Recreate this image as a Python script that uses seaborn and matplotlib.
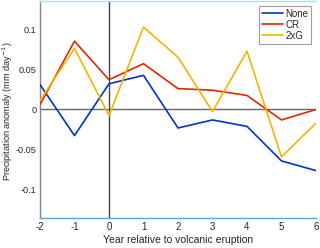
import matplotlib
matplotlib.use("Agg")
import matplotlib.pyplot as plt
import pandas as pd
import seaborn as sns

years = [-2, -1, 0, 1, 2, 3, 4, 5, 6]
none_vals = [0.031, -0.0325, 0.032, 0.0425, -0.023, -0.013, -0.021, -0.064, -0.076]
cr_vals = [0.006, 0.085, 0.037, 0.057, 0.026, 0.024, 0.0175, -0.013, 0.0]
g2_vals = [0.011, 0.076, -0.0075, 0.1025, 0.065, -0.0025, 0.0725, -0.059, -0.017]
series = ["None", "CR", "2xG"]
colors = ["#0033cc", "#dd2a00", "#f5b400"]

df = pd.DataFrame({
    "year": years * 3,
    "value": none_vals + cr_vals + g2_vals,
    "run": [s for s in series for _ in years],
})

sns.set_style("white")
plt.rcParams['font.family'] = ['Liberation Sans', 'DejaVu Sans']

fig = plt.figure(figsize=(3.2, 2.48), dpi=100)
ax = fig.add_axes([0.125, 0.121, 0.8625, 0.875])

# reference lines
ax.axhline(0, color='#666666', linewidth=1, zorder=1)
ax.axvline(0, color='#444444', linewidth=1, zorder=1)

sns.lineplot(data=df, x="year", y="value", hue="run", hue_order=series,
             palette=colors, linewidth=1.2, ax=ax, zorder=3)

ax.set_xlim(-2, 6)
ax.set_ylim(-0.135, 0.135)
ax.set_xticks(years)
ax.set_yticks([-0.1, -0.05, 0, 0.05, 0.1])
ax.set_yticklabels(["-0.1", "-0.05", "0", "0.05", "0.1"])
ax.set_xticklabels([str(y) for y in years])
ax.tick_params(labelsize=7, length=2, direction='in', color='#888888', pad=3)
ax.tick_params(axis='y', labelsize=6.6, pad=2.5)
ax.set_xlabel("Year relative to volcanic eruption", fontsize=7.5, labelpad=2)
ax.set_ylabel("Precipitation anomaly (mm day$^{-1}$)", fontsize=6.6)
ax.yaxis.set_label_coords(-0.09, 0.49)

ax.spines['right'].set_visible(False)
ax.spines['left'].set_color('#888888')
ax.spines['top'].set_color('#b0dcf5')
ax.spines['bottom'].set_color('#5aa6d8')
for s in ax.spines.values():
    s.set_linewidth(1)

leg = ax.legend(loc='upper right', fontsize=7, frameon=True, fancybox=False,
                handlelength=2.2, handletextpad=0.2, borderpad=0.3,
                labelspacing=0.1, borderaxespad=0.5)
leg.get_frame().set_edgecolor('#888888')
leg.get_frame().set_linewidth(0.8)

fig.savefig("out.png", dpi=100)
